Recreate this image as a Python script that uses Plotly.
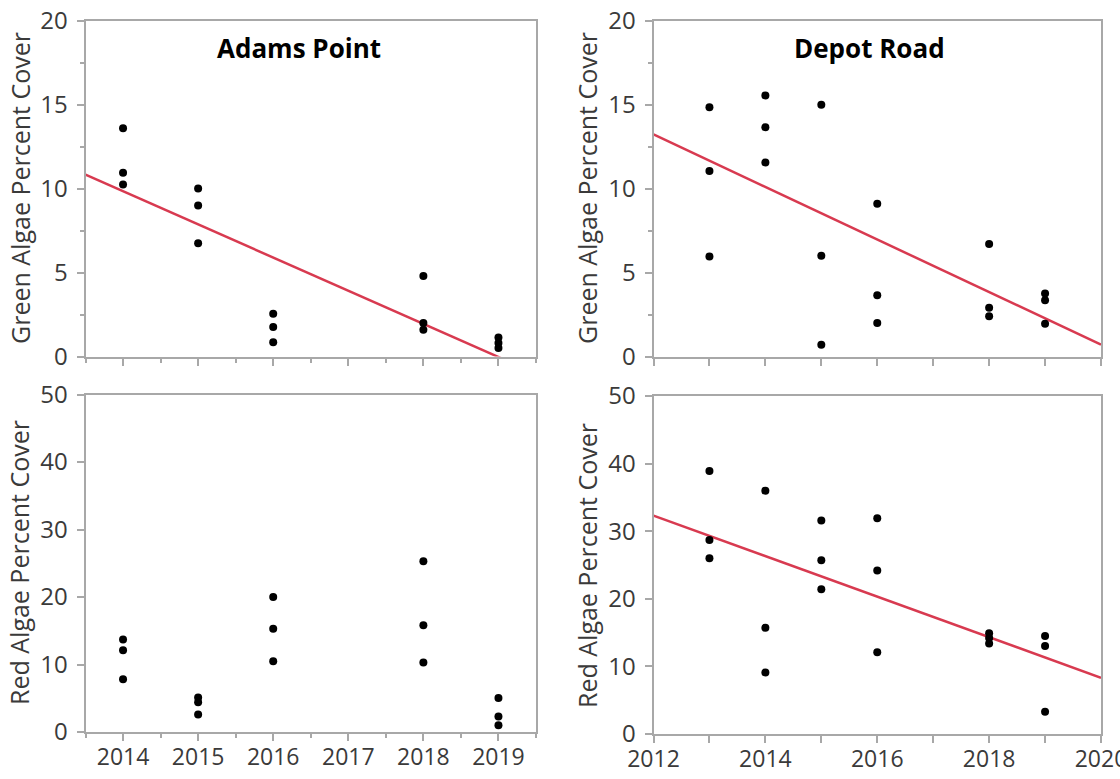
import numpy as np
import plotly.graph_objects as go

# ---------------- data ----------------
adams_green_year = [2014, 2014, 2014, 2015, 2015, 2015, 2016, 2016, 2016,
                    2018, 2018, 2018, 2019, 2019, 2019]
adams_green_cover = [13.6, 10.95, 10.25, 10.0, 9.0, 6.75, 2.55, 1.75, 0.85,
                     4.8, 2.0, 1.6, 1.13, 0.8, 0.5]

depot_green_year = [2013, 2013, 2013, 2014, 2014, 2014, 2015, 2015, 2015,
                    2016, 2016, 2016, 2018, 2018, 2018, 2019, 2019, 2019]
depot_green_cover = [14.85, 11.05, 5.95, 15.55, 13.65, 11.55, 15.0, 6.0, 0.7,
                     9.1, 3.65, 2.0, 6.7, 2.9, 2.4, 3.75, 3.35, 1.95]

adams_red_year = [2014, 2014, 2014, 2015, 2015, 2015, 2016, 2016, 2016,
                  2018, 2018, 2018, 2019, 2019, 2019]
adams_red_cover = [13.7, 12.1, 7.8, 5.1, 4.4, 2.6, 20.0, 15.3, 10.5,
                   25.3, 15.8, 10.3, 5.05, 2.3, 1.0]

depot_red_year = [2013, 2013, 2013, 2014, 2014, 2014, 2015, 2015, 2015,
                  2016, 2016, 2016, 2018, 2018, 2018, 2019, 2019, 2019]
depot_red_cover = [38.9, 28.7, 26.0, 36.0, 15.7, 9.1, 31.6, 25.7, 21.4,
                   31.9, 24.2, 12.1, 14.9, 14.2, 13.4, 14.5, 13.0, 3.3]

site_titles = ["Adams Point", "Depot Road"]
green_title = "Green Algae Percent Cover"
red_title = "Red Algae Percent Cover"
left_years = [2014, 2015, 2016, 2017, 2018, 2019]
right_years = [2012, 2013, 2014, 2015, 2016, 2017, 2018, 2019, 2020]
right_labels = ["2012", "", "2014", "", "2016", "", "2018", "", "2020"]

# ---------------- layout helpers ----------------
W, H = 1120, 779
def xd(a, b):
    return [a / W, b / W]
def yd(top, bottom):
    return [1 - bottom / H, 1 - top / H]

FONT = "Open Sans"
TICKC = "#3a3a3a"
LINEC = "#a8a8a8"
FITC = "#d83a50"

fig = go.Figure()

def scatter(x, y, xa, ya):
    fig.add_trace(go.Scatter(x=x, y=y, mode="markers", xaxis=xa, yaxis=ya,
                             marker=dict(color="black", size=8),
                             showlegend=False, cliponaxis=False))

def fit(x, y, x0, x1, xa, ya):
    m, c = np.polyfit(np.array(x, float), np.array(y, float), 1)
    xs = [x0, x1]
    ys = [m * v + c for v in xs]
    fig.add_trace(go.Scatter(x=xs, y=ys, mode="lines", xaxis=xa, yaxis=ya,
                             line=dict(color=FITC, width=2.5),
                             showlegend=False, cliponaxis=True))

fit(adams_green_year, adams_green_cover, 2013.5, 2019.5, "x", "y")
scatter(adams_green_year, adams_green_cover, "x", "y")
fit(depot_green_year, depot_green_cover, 2012, 2020, "x2", "y2")
scatter(depot_green_year, depot_green_cover, "x2", "y2")
scatter(adams_red_year, adams_red_cover, "x3", "y3")
fit(depot_red_year, depot_red_cover, 2012, 2020, "x4", "y4")
scatter(depot_red_year, depot_red_cover, "x4", "y4")

base_axis = dict(showline=True, linecolor=LINEC, linewidth=2, mirror=True,
                 showgrid=False, zeroline=False, ticks="outside",
                 tickcolor=LINEC, tickwidth=1.5, ticklen=7,
                 ticklabeloverflow="allow",
                 tickfont=dict(family=FONT, size=24, color=TICKC))

def left_x(show, anchor, dom):
    return dict(base_axis, domain=dom, anchor=anchor, range=[2013.5, 2019.5],
                tickmode="array", tickvals=left_years,
                ticktext=[str(v) for v in left_years], showticklabels=show,
                ticklabelstandoff=-4,
                tickfont=dict(family=FONT, size=23, color=TICKC),
                minor=dict(dtick=0.5, tick0=2013.5, ticks="outside", ticklen=4,
                           tickcolor=LINEC, tickwidth=1.5))

def right_x(show, anchor, dom):
    return dict(base_axis, domain=dom, anchor=anchor, range=[2012, 2020],
                tickmode="array", tickvals=right_years, ticktext=right_labels,
                ticklabelstandoff=-4,
                tickfont=dict(family=FONT, size=23, color=TICKC),
                showticklabels=show)

def green_y(anchor, dom):
    return dict(base_axis, domain=dom, anchor=anchor, range=[0, 20],
                tickmode="array", tickvals=[0, 5, 10, 15, 20],
                ticklabelstandoff=4,
                minor=dict(tickvals=[2.5, 7.5, 12.5, 17.5], ticks="outside",
                           ticklen=4, tickcolor=LINEC, tickwidth=1.5))

def red_y(anchor, dom):
    return dict(base_axis, domain=dom, anchor=anchor, range=[0, 50],
                tickmode="array", tickvals=[0, 10, 20, 30, 40, 50],
                ticklabelstandoff=4)

LX = xd(85.5, 536)
RX = xd(653.5, 1101)
TY = yd(20.7, 356.5)
BLY = yd(394.5, 732)
BRY = yd(396, 734)

fig.update_layout(
    width=W, height=H,
    margin=dict(l=0, r=0, t=0, b=0, autoexpand=False),
    paper_bgcolor="white", plot_bgcolor="white",
    xaxis=left_x(False, "y", LX),
    yaxis=green_y("x", TY),
    xaxis2=right_x(False, "y2", RX),
    yaxis2=green_y("x2", TY),
    xaxis3=left_x(True, "y3", LX),
    yaxis3=red_y("x3", BLY),
    xaxis4=right_x(True, "y4", RX),
    yaxis4=red_y("x4", BRY),
)

# panel titles
fig.add_annotation(text="<b>%s</b>" % site_titles[0], x=299 / W, y=1 - 47.5 / H,
                   xref="paper", yref="paper", showarrow=False,
                   xanchor="center", yanchor="middle",
                   font=dict(family=FONT, size=26, color="black"))
fig.add_annotation(text="<b>%s</b>" % site_titles[1], x=869 / W, y=1 - 47.5 / H,
                   xref="paper", yref="paper", showarrow=False,
                   xanchor="center", yanchor="middle",
                   font=dict(family=FONT, size=26, color="black"))

# y axis titles
for xp, yc, t in [(20, 188, green_title), (587, 188, green_title),
                  (19, 563, red_title), (587, 566, red_title)]:
    fig.add_annotation(text=t, x=xp / W, y=1 - yc / H, xref="paper",
                       yref="paper", showarrow=False, textangle=-90,
                       xanchor="center", yanchor="middle",
                       font=dict(family=FONT, size=25, color=TICKC))

fig.write_html("out.html")
